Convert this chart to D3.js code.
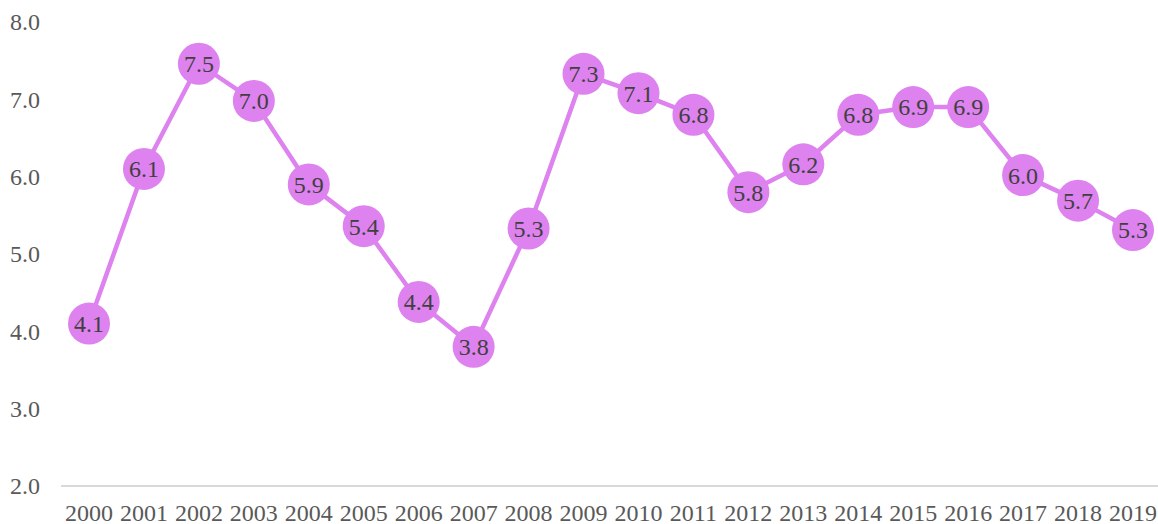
<!DOCTYPE html>
<html>
<head>
<meta charset="utf-8">
<script src="https://cdn.jsdelivr.net/npm/d3@7"></script>
<style>
  body { margin: 0; background: #fff; }
  svg { font-family: "Liberation Serif", "Times New Roman", serif; }
</style>
</head>
<body>
<svg class="chart" width="1158" height="524"></svg>
<script>
let years = ["2000","2001","2002","2003","2004","2005","2006","2007","2008","2009",
             "2010","2011","2012","2013","2014","2015","2016","2017","2018","2019"];
let values = [4.1, 6.1, 7.46, 6.98, 5.9, 5.36, 4.38, 3.8, 5.33, 7.33,
              7.08, 6.8, 5.8, 6.16, 6.8, 6.9, 6.9, 6.02, 5.69, 5.31];
let yTicks = [2, 3, 4, 5, 6, 7, 8];

let svg = d3.select(".chart");
let color = "#dd82ee";

let x = d3.scalePoint()
        .domain(years)
        .range([89, 1133]);
let y = d3.scaleLinear()
        .domain([2, 8])
        .range([486, 22]);

// baseline
svg.append("line")
   .attr("x1", 61).attr("x2", 1158)
   .attr("y1", y(2)).attr("y2", y(2))
   .attr("stroke", "#d9d9d9").attr("stroke-width", 2);

// y tick labels
svg.append("g").selectAll("text")
   .data(yTicks).join("text")
   .attr("x", 40)
   .attr("y", d => y(d))
   .attr("dy", "0.35em")
   .attr("text-anchor", "end")
   .attr("font-size", 24)
   .attr("fill", "#595959")
   .text(d => d3.format(".1f")(d));

// x tick labels
svg.append("g").selectAll("text")
   .data(years).join("text")
   .attr("x", d => x(d))
   .attr("y", 513)
   .attr("dy", "0.33em")
   .attr("text-anchor", "middle")
   .attr("font-size", 24)
   .attr("fill", "#595959")
   .text(d => d);

let line = d3.line()
    .x((d, i) => x(years[i]))
    .y(d => y(d));

svg.append("path")
   .datum(values)
   .attr("d", line)
   .attr("fill", "none")
   .attr("stroke", color)
   .attr("stroke-width", 4.5)
   .attr("stroke-linejoin", "round");

let pts = svg.append("g").selectAll("g")
   .data(values).join("g")
   .attr("transform", (d, i) => translate(x(years[i]), y(d)));

pts.append("circle")
   .attr("r", 21)
   .attr("fill", color);

pts.append("text")
   .attr("text-anchor", "middle")
   .attr("dy", "0.35em")
   .attr("font-size", 24)
   .attr("fill", "#404040")
   .text(d => d3.format(".1f")(d));

function translate(x, y) {
  return 'translate(' + x + ',' + y + ')';
}
</script>
</body>
</html>
